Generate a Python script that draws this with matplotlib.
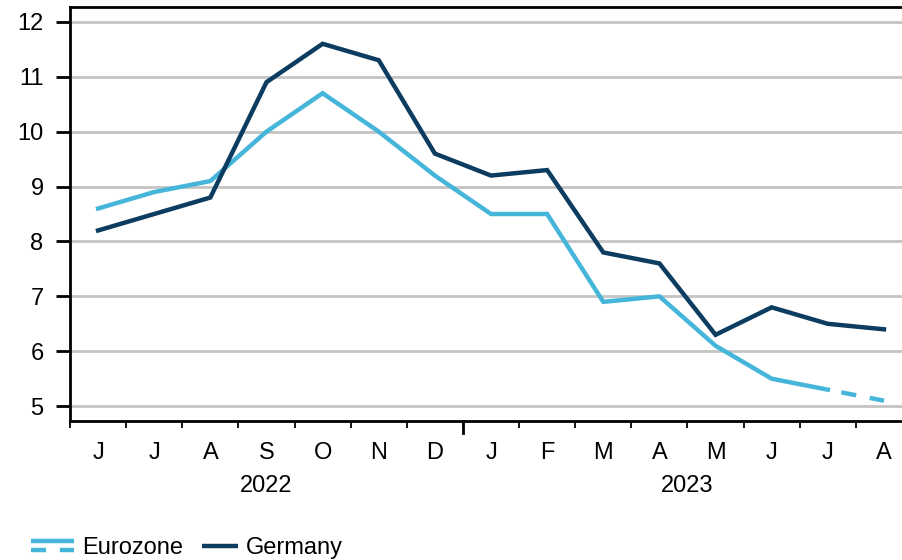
import matplotlib
matplotlib.use("Agg")
import matplotlib.pyplot as plt
from matplotlib.lines import Line2D
from matplotlib.legend_handler import HandlerBase
import matplotlib.transforms as mtransforms

months = ["J", "J", "A", "S", "O", "N", "D", "J", "F", "M", "A", "M", "J", "J", "A"]
years = ["2022", "2023"]
eurozone = [8.6, 8.9, 9.1, 10.0, 10.7, 10.0, 9.2, 8.5, 8.5, 6.9, 7.0, 6.1, 5.5, 5.3, 5.1]
germany = [8.2, 8.5, 8.8, 10.9, 11.6, 11.3, 9.6, 9.2, 9.3, 7.8, 7.6, 6.3, 6.8, 6.5, 6.4]
yticks = [5, 6, 7, 8, 9, 10, 11, 12]

c_ez = "#45b6da"
c_de = "#0c3c60"
FS = 17.0
LW = 3.2
PX = 72 / 100  # points per pixel

plt.rcParams["font.family"] = ["Liberation Sans", "DejaVu Sans"]

fig = plt.figure(figsize=(9.02, 5.6), dpi=100)
ax = fig.add_axes([70 / 902, 1 - 421 / 560, 832 / 902, 414 / 560])

x = list(range(len(months)))
n_solid = len(eurozone) - 1
ax.plot(x[:n_solid], eurozone[:n_solid], color=c_ez, lw=LW, solid_joinstyle="miter", zorder=3)
ax.plot(x[n_solid - 1:], eurozone[n_solid - 1:], color=c_ez, lw=LW,
        ls=(3.4, (3.4, 3.1)), dash_capstyle="butt", zorder=3)
ax.plot(x, germany, color=c_de, lw=LW, solid_joinstyle="miter", zorder=4)

ax.set_yticks(yticks)
ax.set_yticklabels([str(v) for v in yticks], fontsize=FS)
ax.yaxis.grid(True, color="#c4c4c4", lw=2)
ax.set_axisbelow(True)
ax.tick_params(axis="y", length=10, width=2, pad=9, color="black")

# x ticks: minor at month boundaries, labels at month centres
ax.set_xticks(x)
ax.set_xticklabels(months, fontsize=FS)
ax.tick_params(axis="x", which="major", length=0, pad=15)
bounds = [i - 0.5 for i in range(len(months) + 1)]
ax.set_xticks(bounds, minor=True)
ax.tick_params(axis="x", which="minor", length=5, width=1.3, color="black")

ax.set_ylim(4.73, 12.27)
ax.set_xlim(-0.5, (902 - 98) / 56.14)

# year boundary tick
trans = mtransforms.blended_transform_factory(ax.transData, ax.transAxes)
ax.plot([6.5, 6.5], [0, -0.03], color="black", lw=2, transform=trans, clip_on=False)

# year labels
ax.text(3, -0.157, years[0], transform=trans, ha="center", va="center", fontsize=FS)
ax.text(10.5, -0.157, years[1], transform=trans, ha="center", va="center", fontsize=FS)

for s in ["left", "bottom", "top"]:
    ax.spines[s].set_linewidth(2)
    ax.spines[s].set_color("black")
ax.spines["right"].set_visible(False)


class StackedHandler(HandlerBase):
    def create_artists(self, legend, orig_handle, xdescent, ydescent, width, height, fontsize, trans):
        yc = height / 2 - ydescent
        y1 = yc + 4.5 * PX
        y2 = yc - 4.5 * PX
        l1 = Line2D([-xdescent, width - xdescent], [y1, y1], color=c_ez, lw=LW,
                    solid_capstyle="butt", transform=trans)
        l2 = Line2D([-xdescent, width - xdescent], [y2, y2], color=c_ez, lw=LW,
                    ls=(0, (3.4, 3.1)), dash_capstyle="butt", transform=trans)
        return [l1, l2]


class ShortHandler(HandlerBase):
    def create_artists(self, legend, orig_handle, xdescent, ydescent, width, height, fontsize, trans):
        yc = height / 2 - ydescent
        x0 = -xdescent + 7 * PX
        l = Line2D([x0, width - xdescent], [yc, yc], color=c_de, lw=LW,
                   solid_capstyle="butt", transform=trans)
        return [l]


ez_handle = Line2D([], [], color=c_ez, lw=LW)
de_handle = Line2D([], [], color=c_de, lw=LW)
fig.legend([ez_handle, de_handle], ["Eurozone", "Germany"],
           handler_map={ez_handle: StackedHandler(), de_handle: ShortHandler()},
           loc="center left", bbox_to_anchor=(24 / 902, 1 - 548 / 560), ncol=2, frameon=False,
           fontsize=FS, handlelength=43 * PX / FS, handletextpad=8 * PX / FS,
           columnspacing=12 * PX / FS, borderaxespad=0, borderpad=0.3)

fig.savefig("out.png", dpi=100)
